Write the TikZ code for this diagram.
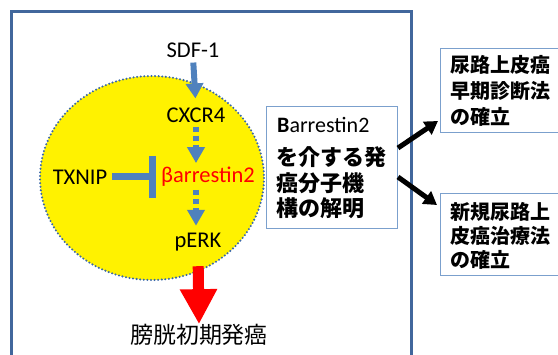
\documentclass[tikz,border=0pt]{standalone}
\usepackage{fontspec}
\setmainfont{Carlito}
\newfontfamily\jp{Noto Sans CJK JP}
\usetikzlibrary{arrows.meta,calc}
\definecolor{frameblue}{HTML}{41679C}
\definecolor{arrowblue}{HTML}{4F81BD}
\definecolor{boxblue}{HTML}{7BA0CD}
\definecolor{dotblue}{HTML}{3A68A8}
\begin{document}
\begin{tikzpicture}[x=1pt,y=-1pt,
  lbl/.style={inner sep=0pt, font=\fontsize{22.5}{22.5}\selectfont},
  jpbold/.style={inner sep=0pt, anchor=west, align=left, font=\jp\bfseries\fontsize{20}{26}\selectfont},
  infobox/.style={draw=boxblue, line width=1pt, anchor=north west, inner sep=0pt},
  bluearrow/.style={arrowblue, line width=6pt, -{Triangle[width=17pt,length=15pt]}},
  dasharrow/.style={arrowblue, line width=6pt, dash pattern=on 5pt off 4pt, -{Triangle[width=17pt,length=16pt]}},
  blackarrow/.style={black, line width=5pt, -{Triangle[width=15pt,length=13pt]}}
]
\useasboundingbox (0,0) rectangle (558,355);
% outer frame
\draw[frameblue, line width=3pt] (11.5,360) -- (11.5,11.5) -- (411,11.5) -- (411,360);
% cell
\draw[fill=yellow, draw=dotblue, line width=2.3pt, line cap=round, dash pattern=on 0pt off 3.6pt]
  (152,178) ellipse [x radius=112, y radius=102];
% labels
\node[lbl] (sdf) at (193,50) {SDF-1};
\node[lbl] (cxcr) at (196,115) {CXCR4};
\node[lbl, text=red] (barr) at (208,177) {βarrestin2};
\node[lbl] (txnip) at (80,177) {TXNIP};
\node[lbl] (perk) at (198,242) {pERK};
\node[inner sep=0pt, font=\jp\fontsize{23}{23}\selectfont] (bladder) at (199,335) {膀胱初期発癌};
% pathway arrows
\draw[bluearrow, shorten <=5pt, shorten >=9pt] (sdf.south) -- (cxcr.north);
\draw[dasharrow, shorten <=4pt, shorten >=4pt] (cxcr.south) -- (barr.north -| cxcr.south);
\draw[dasharrow, shorten <=3pt, shorten >=7pt] (barr.south -| cxcr.south) -- (perk.north -| cxcr.south);
\draw[arrowblue, line width=7pt, -{Bar[width=42pt, line width=7pt]}, shorten <=5pt, shorten >=5pt] (txnip.east) -- (barr.west |- txnip.east);
\draw[red, line width=11pt, -{Triangle[width=35pt,length=35pt]}, shorten <=15pt] (perk.south) -- (bladder.north);
% middle box
\node[infobox, minimum width=131pt, minimum height=122pt] (mid) at (266,106) {};
\node[inner sep=0pt, anchor=west, font=\fontsize{22}{22}\selectfont] (midt1) at (277,125) {\textbf{B}arrestin2};
\node[jpbold, font=\jp\bfseries\fontsize{22}{25.5}\selectfont] (midt2) at (276,183) {を介する発\\癌分子機\\構の解明};
% right boxes
\node[infobox, minimum width=140pt, minimum height=84pt] (r1) at (440,48) {};
\node[jpbold] (r1t) at (450,91) {尿路上皮癌\\早期診断法\\の確立};
\node[infobox, minimum width=140pt, minimum height=82pt] (r2) at (440,193) {};
\node[jpbold, font=\jp\bfseries\fontsize{20}{24}\selectfont] (r2t) at (450,236) {新規尿路上\\皮癌治療法\\の確立};
% black arrows
\draw[blackarrow] ($(mid.north east)+(0,42)$) -- ($(r1.south west)+(-2,-12)$);
\draw[blackarrow] ($(mid.north east)+(0,71)$) -- ($(r2.north west)+(-3,12)$);
\end{tikzpicture}
\end{document}
